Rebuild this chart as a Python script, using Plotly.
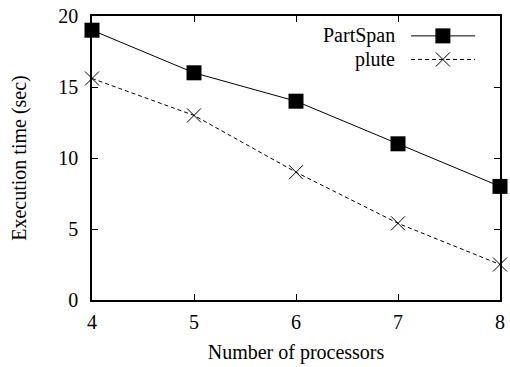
import plotly.graph_objects as go

processors = [4, 5, 6, 7, 8]
partspan = [19, 16, 14, 11, 8]
plute = [15.6, 13, 9, 5.4, 2.5]
series_names = ["PartSpan", "plute"]

FONT = "Liberation Serif"
FS = 20
fig = go.Figure()
fig.add_trace(go.Scatter(x=processors, y=partspan, mode="lines+markers",
                         line=dict(color="black", width=1),
                         marker=dict(symbol="square", size=15, color="black"),
                         showlegend=False, cliponaxis=False))
fig.add_trace(go.Scatter(x=processors, y=plute, mode="lines+markers",
                         line=dict(color="black", width=1, dash="4px,3px"),
                         marker=dict(symbol="x-thin", size=14, line=dict(color="black", width=1)),
                         showlegend=False, cliponaxis=False))

# legend keys (gnuplot style: text on left, sample on right)
rows = [0.930, 0.847]
styles = [dict(dash="solid", sym="square"), dict(dash="4px,3px", sym="x-thin")]
for name, yr, st in zip(series_names, rows, styles):
    fig.add_annotation(x=0.748, y=yr, xref="paper", yref="paper", text=name,
                       showarrow=False, xanchor="right", yanchor="middle",
                       font=dict(family=FONT, size=FS, color="black"))
    fig.add_trace(go.Scatter(x=[0.782, 0.939], y=[yr, yr], xaxis="x2", yaxis="y2",
                             mode="lines", line=dict(color="black", width=1, dash=st["dash"]),
                             showlegend=False, hoverinfo="skip"))
    if st["sym"] == "square":
        mk = dict(symbol="square", size=15, color="black")
    else:
        mk = dict(symbol="x-thin", size=14, line=dict(color="black", width=1))
    fig.add_trace(go.Scatter(x=[0.860], y=[yr], xaxis="x2", yaxis="y2", mode="markers",
                             marker=mk, showlegend=False, hoverinfo="skip"))

axis_common = dict(showgrid=False, zeroline=False, showline=True, linecolor="black",
                   linewidth=1.5, mirror="ticks", ticks="inside", ticklen=6,
                   tickcolor="black", tickwidth=1,
                   tickfont=dict(family=FONT, size=FS, color="black"))
fig.update_layout(
    width=510, height=367,
    margin=dict(l=92, r=5, t=13, b=67),
    paper_bgcolor="white", plot_bgcolor="white",
    xaxis=dict(range=[4, 8], dtick=1, ticklabelstandoff=3,
               title=dict(text="Number of processors",
               font=dict(family=FONT, size=FS, color="black"), standoff=13), **axis_common),
    yaxis=dict(range=[0, 20], dtick=5, ticklabelstandoff=8,
               title=dict(text="Execution time (sec)",
               font=dict(family=FONT, size=FS, color="black"), standoff=26), **axis_common),
    xaxis2=dict(range=[0, 1], overlaying="x", visible=False),
    yaxis2=dict(range=[0, 1], overlaying="y", visible=False),
    showlegend=False,
)
fig.write_html("out.html")
